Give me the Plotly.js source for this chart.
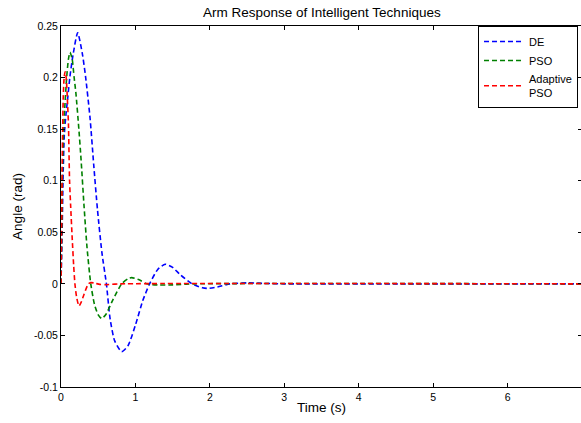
<!DOCTYPE html>
<html>
<head>
<meta charset="utf-8">
<script src="https://cdn.plot.ly/plotly-3.0.1.min.js"></script>
<style>
html,body{margin:0;padding:0;overflow:hidden;background:#fff;}
#chart{width:582px;height:423px;}
</style>
</head>
<body>
<div id="chart"></div>
<script>
// Series names
var seriesNames = ["DE", "PSO", "Adaptive<br>PSO"];

// DE (blue)
var deTime  = [0,0.015,0.03,0.045,0.065,0.09,0.12,0.165,0.224,0.286,0.33,0.39,0.44,0.49,0.55,0.61,0.66,0.72,0.815,0.9,1.0,1.1,1.19,1.3,1.4,1.5,1.6,1.76,1.9,1.97,2.1,2.27,2.5,2.7,3.0,7.0];
var deAngle = [0,0.05,0.11,0.145,0.163,0.18,0.201,0.2235,0.2435,0.2235,0.201,0.161,0.115,0.072,0.03,0,-0.034,-0.055,-0.0657,-0.06,-0.04,-0.016,0,0.014,0.019,0.016,0.009,0,-0.0038,-0.0044,-0.003,0,0.001,0.0005,0,0];

// PSO (green)
var psoTime  = [0,0.01,0.02,0.035,0.05,0.076,0.1,0.121,0.15,0.175,0.2,0.24,0.27,0.31,0.35,0.40,0.45,0.5,0.546,0.6,0.7,0.815,0.9,0.95,1.05,1.15,1.3,1.5,1.8,7.0];
var psoAngle = [0,0.05,0.11,0.15,0.17,0.2,0.218,0.2245,0.218,0.201,0.185,0.15,0.12,0.075,0.035,0,-0.02,-0.03,-0.0335,-0.03,-0.015,0,0.005,0.006,0.004,0,-0.001,-0.001,0,0];

// Adaptive PSO (red)
var apsoTime  = [0,0.01,0.02,0.03,0.042,0.055,0.07,0.085,0.1,0.115,0.13,0.15,0.17,0.187,0.21,0.242,0.27,0.31,0.367,0.4,0.45,0.52,0.6,0.8,7.0];
var apsoAngle = [0,0.07,0.14,0.18,0.2,0.2057,0.2,0.18,0.155,0.1,0.075,0.045,0.018,0,-0.013,-0.0215,-0.018,-0.01,0,0.0012,0.0008,-0.0005,-0.0008,0,0];

// Tick labels
var xTickVals = [0,1,2,3,4,5,6,7];
var xTickText = ["0","1","2","3","4","5","6","7"];
var yTickVals = [-0.1,-0.05,0,0.05,0.1,0.15,0.2,0.25];
var yTickText = ["-0.1","-0.05","0","0.05","0.1","0.15","0.2","0.25"];

var colors = ["#0000ff", "#008000", "#ff0000"];
var dashStyle = "5px,3px";
var FONT = "Liberation Sans, Arial, sans-serif";

function mk(x, y, name, color) {
  return {x: x, y: y, name: name, type: "scatter", mode: "lines",
          line: {color: color, width: 1.6, dash: dashStyle, shape: "spline", smoothing: 0.6}};
}

var data = [
  mk(deTime, deAngle, seriesNames[0], colors[0]),
  mk(psoTime, psoAngle, seriesNames[1], colors[1]),
  mk(apsoTime, apsoAngle, seriesNames[2], colors[2])
];

var axisCommon = {
  showline: true, linecolor: "#000", linewidth: 1, mirror: "ticks",
  ticks: "inside", ticklen: 4, tickcolor: "#000", tickwidth: 1,
  showgrid: false, zeroline: false,
  tickfont: {family: FONT, size: 10.5, color: "#000"}
};

var layout = {
  width: 582, height: 423,
  margin: {l: 61, r: 0, t: 26, b: 36},
  paper_bgcolor: "#fff", plot_bgcolor: "#fff",
  font: {family: FONT, color: "#000"},
  title: {text: "Arm Response of Intelligent Techniques", font: {family: FONT, size: 13.5, color: "#000"},
          x: 0.553, xanchor: "center", y: 0.972, yanchor: "middle"},
  xaxis: Object.assign({}, axisCommon, {
    range: [0, 7], tickvals: xTickVals, ticktext: xTickText,
    title: {text: "Time (s)", font: {family: FONT, size: 13.5, color: "#000"}, standoff: 0}
  }),
  yaxis: Object.assign({}, axisCommon, {
    range: [-0.1, 0.25], tickvals: yTickVals, ticktext: yTickText,
    title: {text: "Angle (rad)", font: {family: FONT, size: 13.5, color: "#000"}, standoff: 8}
  }),
  showlegend: true,
  legend: {x: 0.8004, xanchor: "left", y: 1, yanchor: "top",
           bgcolor: "#fff", bordercolor: "#000", borderwidth: 1,
           itemwidth: 40, entrywidth: 60, entrywidthmode: "pixels",
           font: {family: FONT, size: 11, color: "#000"}, tracegroupgap: 0}
};

Plotly.newPlot("chart", data, layout, {staticPlot: true, displayModeBar: false});
</script>
</body>
</html>
